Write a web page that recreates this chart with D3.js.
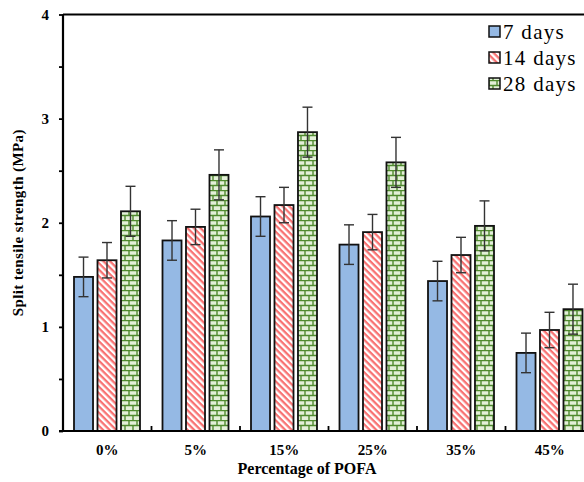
<!DOCTYPE html>
<html><head><meta charset="utf-8">
<script src="https://cdn.jsdelivr.net/npm/d3@7"></script>
<style>
html,body{margin:0;padding:0;background:#fff;}
svg{display:block;font-family:"Liberation Serif","Times New Roman",serif;}
</style></head>
<body>
<svg id="chart" width="584" height="482"></svg>
<script>
const categories = ["0%","5%","15%","25%","35%","45%"];
const seriesNames = ["7 days","14 days","28 days"];
const days7  = [1.48,1.83,2.06,1.79,1.44,0.75];
const days14 = [1.64,1.96,2.17,1.91,1.69,0.97];
const days28 = [2.11,2.46,2.87,2.58,1.97,1.17];
const err7  = [0.19,0.19,0.19,0.19,0.19,0.19];
const err14 = [0.17,0.17,0.17,0.17,0.17,0.17];
const err28 = [0.24,0.24,0.24,0.24,0.24,0.24];
const yTicks = [0,1,2,3,4];
const yMinorTicks = [0,0.5,1,1.5,2,2.5,3,3.5,4];
const yTitle = "Split tensile strength (MPa)";
const xTitle = "Percentage of POFA";

const values = [days7, days14, days28];
const errs = [err7, err14, err28];

const svg = d3.select("#chart");
const mLeft = 63, mRight = 594, mTop = 14.5, mBottom = 431;

const defs = svg.append("defs");
// stripes
const pr = defs.append("pattern").attr("id","stripes").attr("patternUnits","userSpaceOnUse")
  .attr("width",8).attr("height",4.6).attr("patternTransform","rotate(45)");
pr.append("rect").attr("width",8).attr("height",4.6).attr("fill","#fff");
pr.append("rect").attr("y",0).attr("width",8).attr("height",2.3).attr("fill","#F87272");
// bricks
const pb = defs.append("pattern").attr("id","bricks").attr("patternUnits","userSpaceOnUse")
  .attr("width",8).attr("height",10);
pb.append("rect").attr("width",8).attr("height",10).attr("fill","#E3F0D8");
pb.append("path").attr("d","M0,0.5H8M0,5.5H8M1,0V5.5M5,5.5V10.5")
  .attr("stroke","#4F8A2E").attr("stroke-width",1.4).attr("fill","none");

const fills = ["#95B9E4","url(#stripes)","url(#bricks)"];

const x0 = d3.scaleBand().domain(categories).range([mLeft, mRight]).paddingInner(0).paddingOuter(0);
const x1 = d3.scaleBand().domain(seriesNames).range([11, 77]).paddingInner(0.19).paddingOuter(0);
const y = d3.scaleLinear().domain([0,4]).range([mBottom, mTop]);

// bars
const g = svg.append("g");
categories.forEach((c, ci) => {
  seriesNames.forEach((s, si) => {
    const v = values[si][ci];
    g.append("rect")
      .attr("x", x0(c) + x1(s))
      .attr("y", y(v))
      .attr("width", x1.bandwidth())
      .attr("height", y(0) - y(v))
      .attr("fill", fills[si])
      .attr("stroke", "#111").attr("stroke-width", 1.8);
  });
});
// error bars
categories.forEach((c, ci) => {
  seriesNames.forEach((s, si) => {
    const v = values[si][ci], e = errs[si][ci];
    const cx = x0(c) + x1(s) + x1.bandwidth()/2;
    const eg = g.append("g").attr("stroke","#333").attr("stroke-width",1.4);
    eg.append("line").attr("x1",cx).attr("x2",cx).attr("y1",y(v+e)).attr("y2",y(v-e));
    eg.append("line").attr("x1",cx-5).attr("x2",cx+5).attr("y1",y(v+e)).attr("y2",y(v+e));
    eg.append("line").attr("x1",cx-5).attr("x2",cx+5).attr("y1",y(v-e)).attr("y2",y(v-e));
  });
});

// frame top
svg.append("line").attr("x1",mLeft).attr("x2",mRight).attr("y1",mTop).attr("y2",mTop)
  .attr("stroke","#000").attr("stroke-width",2.2);

// y axis
const yAxis = svg.append("g").attr("transform",`translate(${mLeft},0)`)
  .call(d3.axisLeft(y).tickValues(yMinorTicks).tickSize(4).tickFormat(d => yTicks.includes(d) ? d3.format("d")(d) : ""));
yAxis.select(".domain").attr("stroke","#000").attr("stroke-width",2.2).attr("d",`M0,${mBottom}V${mTop}`);
yAxis.selectAll(".tick line").attr("stroke","#000").attr("stroke-width",1.8);
yAxis.selectAll(".tick text").attr("font-size",15).attr("font-weight","bold")
  .attr("font-family","Liberation Serif").attr("fill","#000").attr("x",-14);

// x axis
const bounds = categories.slice(1).map(c => x0(c));
const xAxis = svg.append("g").attr("transform",`translate(0,${mBottom})`)
  .call(d3.axisBottom(x0).tickSize(0).tickPadding(0));
xAxis.select(".domain").attr("stroke","#000").attr("stroke-width",2.2).attr("d",`M${mLeft-4},0H${mRight}`);
xAxis.selectAll(".tick text").attr("font-size",15).attr("font-weight","bold")
  .attr("font-family","Liberation Serif").attr("fill","#000").attr("dy",0).attr("y",24);
xAxis.selectAll(".bt").data(bounds).enter().append("line")
  .attr("x1",d=>d).attr("x2",d=>d).attr("y1",0).attr("y2",-5)
  .attr("stroke","#000").attr("stroke-width",1.8);

// titles
svg.append("text").attr("transform",`translate(23,${(mTop+mBottom)/2}) rotate(-90)`)
  .attr("text-anchor","middle").attr("font-size",15).attr("font-weight","bold")
  .attr("letter-spacing",0.4).text(yTitle);
svg.append("text").attr("x",307).attr("y",474).attr("text-anchor","middle")
  .attr("font-size",16).attr("font-weight","bold").text(xTitle);

// legend
const lg = svg.append("g");
seriesNames.forEach((s, i) => {
  const ly = 32 + i*26;
  lg.append("rect").attr("x",489).attr("y",ly-6).attr("width",11).attr("height",11)
    .attr("fill",fills[i]).attr("stroke","#111").attr("stroke-width",1.5);
  lg.append("text").attr("x",503).attr("y",ly+6.5).attr("font-size",21).attr("letter-spacing",1.3).text(s);
});
</script>
</body></html>
